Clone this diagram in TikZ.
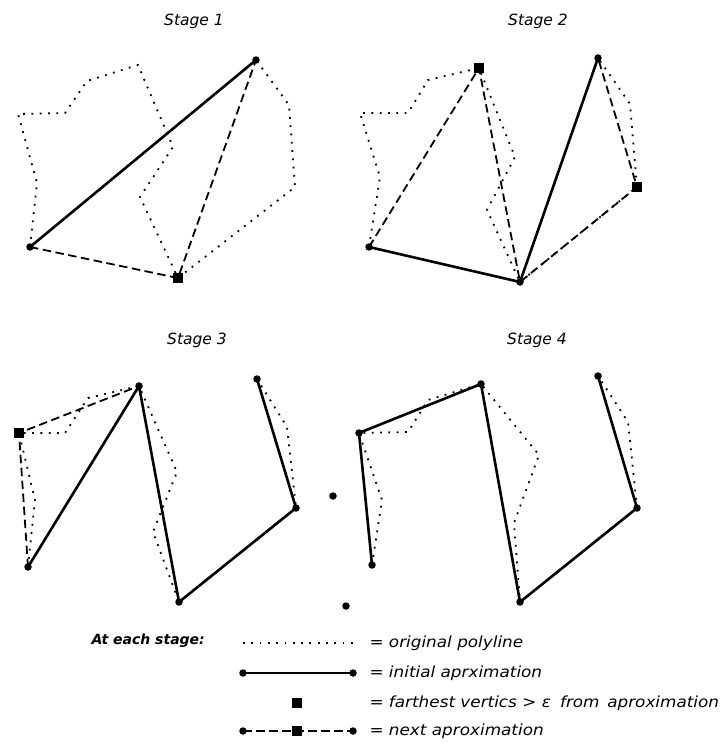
\documentclass[tikz,border=0pt]{standalone}
\usepackage{fontspec}
\setmainfont{DejaVu Sans}
\newfontfamily\legfont[FakeStretch=1.1]{DejaVu Sans}
\begin{document}
\begin{tikzpicture}[x=1pt,y=-1pt,
  orig/.style={line width=1.8pt, dash pattern=on 1.8pt off 6.5pt},
  approx/.style={line width=2.6pt, line cap=round},
  nextap/.style={line width=1.8pt, dash pattern=on 8.5pt off 4.5pt},
  vtx/.style={circle, fill=black, inner sep=0pt, minimum size=7.5pt},
  far/.style={rectangle, fill=black, inner sep=0pt, minimum size=10pt},
  title/.style={font=\fontsize{15.5}{18}\selectfont\itshape},
  legtext/.style={anchor=west, font=\legfont\fontsize{15.3}{18}\selectfont\itshape}]
\useasboundingbox (0,0) rectangle (727,743);

% ---------- coordinates of the four stages ----------
\foreach \n/\x/\y in {p0/30/247, pa/37/183, p1/18/114, p2/65/113, p3/87/81, p4/138/65,
  p5/173/147, p6/140/197, p7/178/278, p8/295/187, p9/289/105, p10/256/60}
  \coordinate (s1\n) at (\x,\y);
\foreach \n/\x/\y in {p0/369/247, pa/380/177, p1/360/113, p2/408/113, p3/428/80, p4/479/68,
  p5/515/157, p6/487/210, p7/520/282, p8/637/187, p9/630/104, p10/598/58}
  \coordinate (s2\n) at (\x,\y);
\foreach \n/\x/\y in {p0/28/567, pa/35/500, p1/19/433, p2/65/433, p3/88/398, p4/139/386,
  p5/177/472, p6/153/532, p7/179/602, p8/296/508, p9/287/427, p10/257/379}
  \coordinate (s3\n) at (\x,\y);
\foreach \n/\x/\y in {p0/372/565, pa/382/500, p1/359/433, p2/408/432, p3/428/400, p4/481/384,
  p5/539/455, p6/514/523, p7/520/602, p8/637/508, p9/628/422, p10/598/376}
  \coordinate (s4\n) at (\x,\y);

% ---------- titles ----------
\node[title] (t1) at (194,21) {Stage 1};
\node[title] (t2) at (538,21) {Stage 2};
\node[title] (t3) at (197,340) {Stage 3};
\node[title] (t4) at (537,340) {Stage 4};

% ---------- original polylines ----------
\foreach \s in {1,2,3,4}
  \draw[orig] (s\s p0) -- (s\s pa) -- (s\s p1) -- (s\s p2) -- (s\s p3) -- (s\s p4)
     -- (s\s p5) -- (s\s p6) -- (s\s p7) -- (s\s p8) -- (s\s p9) -- (s\s p10);

% ---------- stage 1 ----------
\draw[nextap] (s1p0) -- (s1p7) -- (s1p10);
\draw[approx] (s1p0) -- (s1p10);
\node[vtx] (v1a) at (s1p0) {};
\node[vtx] (v1b) at (s1p10) {};
\node[far] (f1a) at (s1p7) {};

% ---------- stage 2 ----------
\draw[nextap] (s2p0) -- (s2p4) -- (s2p7) -- (s2p8) -- (s2p10);
\draw[approx] (s2p0) -- (s2p7) -- (s2p10);
\node[vtx] (v2a) at (s2p0) {};
\node[vtx] (v2b) at (s2p7) {};
\node[vtx] (v2c) at (s2p10) {};
\node[far] (f2a) at (s2p4) {};
\node[far] (f2b) at (s2p8) {};

% ---------- stage 3 ----------
\draw[nextap] (s3p0) -- (s3p1) -- (s3p4);
\draw[approx] (s3p0) -- (s3p4) -- (s3p7) -- (s3p8) -- (s3p10);
\node[vtx] (v3a) at (s3p0) {};
\node[vtx] (v3b) at (s3p4) {};
\node[vtx] (v3c) at (s3p7) {};
\node[vtx] (v3d) at (s3p8) {};
\node[vtx] (v3e) at (s3p10) {};
\node[far] (f3a) at (s3p1) {};

% ---------- stage 4 ----------
\draw[approx] (s4p0) -- (s4p1) -- (s4p4) -- (s4p7) -- (s4p8) -- (s4p10);
\node[vtx] (v4a) at (s4p0) {};
\node[vtx] (v4b) at (s4p1) {};
\node[vtx] (v4c) at (s4p4) {};
\node[vtx] (v4d) at (s4p7) {};
\node[vtx] (v4e) at (s4p8) {};
\node[vtx] (v4f) at (s4p10) {};

% ---------- stray dots ----------
\node[vtx] (d1) at (333,496) {};
\node[vtx] (d2) at (346,606) {};

% ---------- legend ----------
\node[anchor=west, font=\fontsize{14}{17}\selectfont\bfseries\itshape] (lh) at (88,641) {At each stage:};
\coordinate (l1a) at (243,643); \coordinate (l1b) at (353,643);
\draw[orig] (l1a) -- (l1b);
\node[legtext] (lt1) at (366,643) {= original polyline};

\coordinate (l2a) at (243,673); \coordinate (l2b) at (353,673);
\draw[approx] (l2a) -- (l2b);
\node[vtx] (lv2a) at (l2a) {};
\node[vtx] (lv2b) at (l2b) {};
\node[legtext] (lt2) at (366,673) {= initial aprximation};

\node[far] (lf3) at (297,703) {};
\node[legtext] (lt3) at (366,703) {= farthest vertics > ε\hspace{0.6em}from\hspace{0.5em}aproximation};

\coordinate (l4a) at (243,731); \coordinate (l4m) at (297,731); \coordinate (l4b) at (353,731);
\draw[nextap] (l4a) -- (l4m) -- (l4b);
\node[vtx] (lv4a) at (l4a) {};
\node[far] (lf4) at (l4m) {};
\node[vtx] (lv4b) at (l4b) {};
\node[legtext] (lt4) at (366,731) {= next aproximation};
\end{tikzpicture}
\end{document}
